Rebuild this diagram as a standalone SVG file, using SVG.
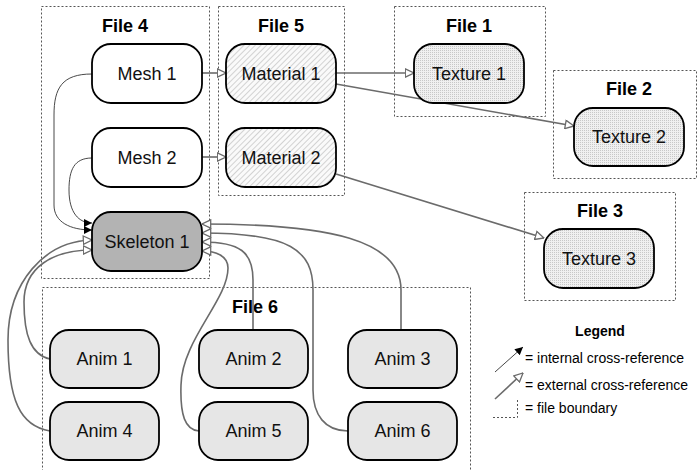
<svg xmlns="http://www.w3.org/2000/svg" width="697" height="470" viewBox="0 0 697 470">
<style>
.bnd{fill:none;stroke:#555;stroke-width:1;stroke-dasharray:2,2}
.ttl{font-family:"Liberation Sans",Arial,sans-serif;font-weight:bold;font-size:18px;text-anchor:middle;fill:#000}
.lbl{font-family:"Liberation Sans",Arial,sans-serif;font-size:18px;text-anchor:middle;fill:#111}
.node{stroke:#000;stroke-width:1.8}
.ext{fill:none;stroke:#6b6b6b;stroke-width:1.6;marker-end:url(#extHead)}
.int{fill:none;stroke:#333;stroke-width:0.9;marker-end:url(#intHead)}
.leg{font-family:"Liberation Sans",Arial,sans-serif;font-size:14px;fill:#000}
</style>
<defs>
<marker id="extHead" viewBox="0 0 10 10" refX="9.5" refY="5" markerWidth="10" markerHeight="10" markerUnits="userSpaceOnUse" orient="auto">
<path d="M0.8,0.8 L9.5,5 L0.8,9.2 Z" fill="#fff" stroke="#6b6b6b" stroke-width="1.3"/>
</marker>
<marker id="intHead" viewBox="0 0 10 10" refX="10" refY="5" markerWidth="8" markerHeight="8" markerUnits="userSpaceOnUse" orient="auto">
<path d="M0,0 L10,5 L0,10 Z" fill="#000"/>
</marker>
<pattern id="hatch" width="4" height="4" patternUnits="userSpaceOnUse" patternTransform="rotate(45)">
<rect width="4" height="4" fill="#fafafa"/>
<line x1="0" y1="0" x2="0" y2="4" stroke="#b8b8b8" stroke-width="1.2"/>
</pattern>
<pattern id="stipple" width="2" height="2" patternUnits="userSpaceOnUse">
<rect width="2" height="2" fill="#f0f0f0"/>
<rect width="1" height="1" fill="#c8c8c8"/>
</pattern>
</defs>

<g id="file4"><rect class="bnd" x="41.5" y="6.5" width="168" height="272"/><text class="ttl" x="125" y="32">File 4</text></g>
<g id="file5"><rect class="bnd" x="218.5" y="6.5" width="126" height="189"/><text class="ttl" x="281" y="32">File 5</text></g>
<g id="file1"><rect class="bnd" x="394.5" y="6.5" width="151" height="110"/><text class="ttl" x="469" y="32">File 1</text></g>
<g id="file2"><rect class="bnd" x="553.5" y="70.5" width="143" height="108"/><text class="ttl" x="629" y="95">File 2</text></g>
<g id="file3"><rect class="bnd" x="524.5" y="192.5" width="151" height="108"/><text class="ttl" x="600" y="217">File 3</text></g>
<g id="file6"><rect class="bnd" x="42.5" y="287.5" width="428" height="200"/><text class="ttl" x="255" y="313">File 6</text></g>

<g id="connectors">
<path class="ext" d="M202,73 L226,73"/>
<path class="ext" d="M202,157 L226,157"/>
<path class="ext" d="M336,73 L414,73"/>
<path class="ext" d="M336,84 L574,126"/>
<path class="ext" d="M336,174 L544,238"/>
<path class="int" d="M92,74 C62,74 54,88 54,115 L54,205 C54,222 70,230 92,230"/>
<path class="int" d="M92,158 C74,158 69,170 69,190 C69,213 79,223 92,223"/>
<path class="ext" d="M50,359 C31,355 24,335 24,302 C24,268 52,250 92,250"/>
<path class="ext" d="M50,431 C20,426 8,400 8,340 C8,282 45,241 92,240"/>
<path class="ext" d="M401,330 L401,290 C401,240 330,224 202,224"/>
<path class="ext" d="M348,431 C325,431 313,415 313,390 L313,290 C313,250 290,233 202,233"/>
<path class="ext" d="M253,330 L253,280 C253,252 240,242 202,242"/>
<path class="ext" d="M199,431 C185,430 180,415 181,385 C182,340 228,300 228,268 C228,256 216,251 202,251"/>
</g>

<g id="mesh1"><rect class="node" x="92" y="44" width="110" height="59" rx="19" fill="#fff"/><text class="lbl" x="147" y="80">Mesh 1</text></g>
<g id="mesh2"><rect class="node" x="92" y="128" width="110" height="59" rx="19" fill="#fff"/><text class="lbl" x="147" y="164">Mesh 2</text></g>
<g id="skeleton1"><rect class="node" x="92" y="212" width="110" height="59" rx="19" fill="#b3b3b3"/><text class="lbl" x="147" y="248">Skeleton 1</text></g>
<g id="material1"><rect class="node" x="226" y="44" width="110" height="59" rx="19" fill="url(#hatch)"/><text class="lbl" x="281" y="80">Material 1</text></g>
<g id="material2"><rect class="node" x="226" y="128" width="110" height="59" rx="19" fill="url(#hatch)"/><text class="lbl" x="281" y="164">Material 2</text></g>
<g id="texture1"><rect class="node" x="414" y="44" width="110" height="59" rx="19" fill="url(#stipple)"/><text class="lbl" x="469" y="80">Texture 1</text></g>
<g id="texture2"><rect class="node" x="574" y="108" width="110" height="58" rx="19" fill="url(#stipple)"/><text class="lbl" x="629" y="143">Texture 2</text></g>
<g id="texture3"><rect class="node" x="544" y="229" width="110" height="59" rx="19" fill="url(#stipple)"/><text class="lbl" x="599" y="265">Texture 3</text></g>
<g id="anim1"><rect class="node" x="50" y="330" width="109" height="58" rx="19" fill="#e6e6e6"/><text class="lbl" x="104.5" y="365">Anim 1</text></g>
<g id="anim2"><rect class="node" x="199" y="330" width="109" height="58" rx="19" fill="#e6e6e6"/><text class="lbl" x="253.5" y="365">Anim 2</text></g>
<g id="anim3"><rect class="node" x="348" y="330" width="109" height="58" rx="19" fill="#e6e6e6"/><text class="lbl" x="402.5" y="365">Anim 3</text></g>
<g id="anim4"><rect class="node" x="50" y="402" width="109" height="58" rx="19" fill="#e6e6e6"/><text class="lbl" x="104.5" y="437">Anim 4</text></g>
<g id="anim5"><rect class="node" x="199" y="402" width="109" height="58" rx="19" fill="#e6e6e6"/><text class="lbl" x="253.5" y="437">Anim 5</text></g>
<g id="anim6"><rect class="node" x="348" y="402" width="109" height="58" rx="19" fill="#e6e6e6"/><text class="lbl" x="402.5" y="437">Anim 6</text></g>

<g id="legend">
<text class="leg" x="600" y="336" text-anchor="middle" font-weight="bold">Legend</text>
<path class="int" d="M495,372 L523,347"/>
<text class="leg" x="525" y="363">= internal cross-reference</text>
<path class="ext" d="M495,399 L523,373"/>
<text class="leg" x="525" y="390">= external cross-reference</text>
<path class="bnd" d="M517.5,400 L517.5,417.5 L492,417.5"/>
<text class="leg" x="525" y="413">= file boundary</text>
</g>
</svg>
